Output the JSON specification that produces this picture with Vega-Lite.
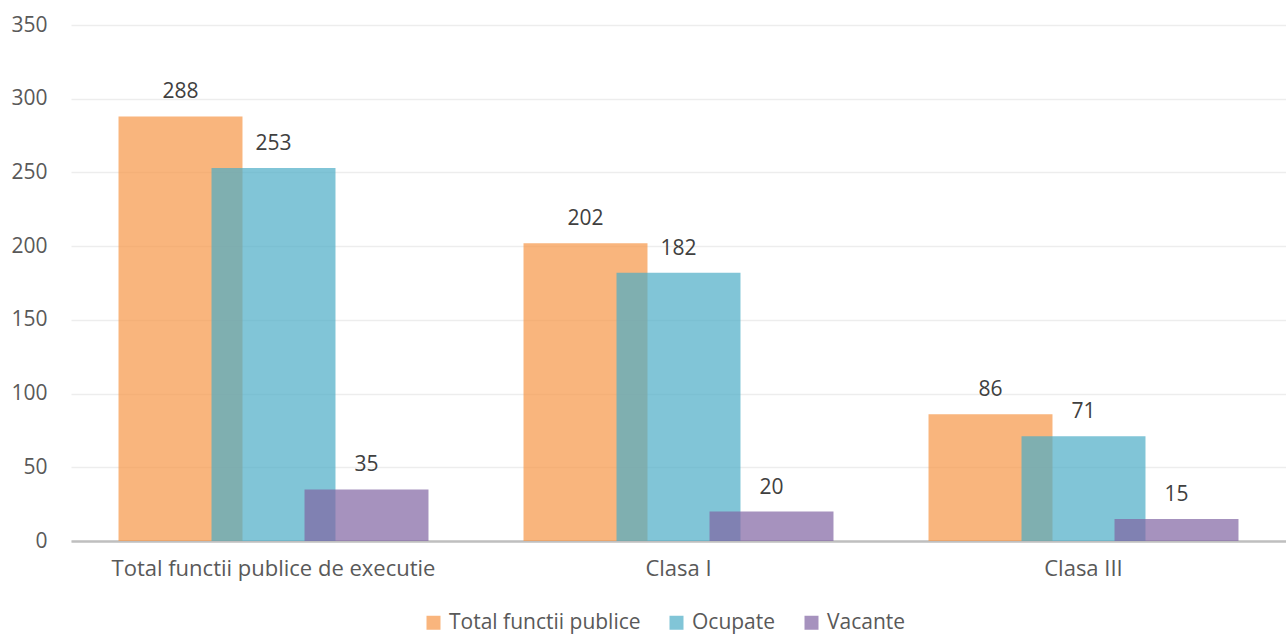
{
  "$schema": "https://vega.github.io/schema/vega-lite/v6.json",
  "width": 1215,
  "height": 516,
  "autosize": "none",
  "padding": {"left": 71, "top": 25, "right": 0, "bottom": 94},
  "background": "white",
  "config": {
    "view": {"stroke": null},
    "font": "Open Sans"
  },
  "data": {
    "values": [
      {"categorie": "Total functii publice de executie", "serie": "Total functii publice", "ord": 1, "valoare": 288},
      {"categorie": "Total functii publice de executie", "serie": "Ocupate", "ord": 2, "valoare": 253},
      {"categorie": "Total functii publice de executie", "serie": "Vacante", "ord": 3, "valoare": 35},
      {"categorie": "Clasa I", "serie": "Total functii publice", "ord": 1, "valoare": 202},
      {"categorie": "Clasa I", "serie": "Ocupate", "ord": 2, "valoare": 182},
      {"categorie": "Clasa I", "serie": "Vacante", "ord": 3, "valoare": 20},
      {"categorie": "Clasa III", "serie": "Total functii publice", "ord": 1, "valoare": 86},
      {"categorie": "Clasa III", "serie": "Ocupate", "ord": 2, "valoare": 71},
      {"categorie": "Clasa III", "serie": "Vacante", "ord": 3, "valoare": 15}
    ]
  },
  "encoding": {
    "x": {
      "field": "categorie",
      "type": "nominal",
      "sort": ["Total functii publice de executie", "Clasa I", "Clasa III"],
      "scale": {"paddingInner": 0.311, "paddingOuter": 0.1555},
      "axis": {
        "title": null,
        "labelAngle": 0,
        "labelLimit": 0,
        "labelFont": "Open Sans",
        "labelFontSize": 22,
        "labelColor": "#595959",
        "labelPadding": 17,
        "ticks": false,
        "domainColor": "#BFBFBF",
        "domainWidth": 2.5,
        "grid": false
      }
    },
    "y": {
      "field": "valoare",
      "type": "quantitative",
      "scale": {"domain": [0, 350]},
      "axis": {
        "title": null,
        "values": [0, 50, 100, 150, 200, 250, 300, 350],
        "labelFont": "Open Sans",
        "labelFontSize": 21,
        "labelColor": "#595959",
        "labelPadding": 24,
        "ticks": false,
        "domain": false,
        "gridColor": "#EDEDED",
        "gridWidth": 1.5
      }
    }
  },
  "resolve": {"scale": {"xOffset": "independent"}},
  "layer": [
    {
      "mark": {"type": "bar", "opacity": 0.7, "width": {"band": 1.333}},
      "encoding": {
        "xOffset": {
          "field": "serie",
          "type": "nominal",
          "sort": ["Total functii publice", "Ocupate", "Vacante"],
          "scale": {"type": "band", "paddingInner": 0, "paddingOuter": 0, "range": [31, 310]}
        },
        "color": {
          "field": "serie",
          "type": "nominal",
          "sort": ["Total functii publice", "Ocupate", "Vacante"],
          "scale": {"domain": ["Total functii publice", "Ocupate", "Vacante"], "range": ["#F79646", "#4BACC6", "#8064A2"]},
          "legend": {
            "title": null,
            "orient": "none",
            "direction": "horizontal",
            "legendX": 352,
            "legendY": 587,
            "symbolType": "square",
            "symbolSize": 196,
            "symbolOpacity": 0.7,
            "symbolStrokeWidth": 0,
            "labelFont": "Open Sans",
            "labelFontSize": 21,
            "labelLimit": 0,
            "labelColor": "#595959",
            "labelOffset": 5,
            "columnPadding": 25
          }
        },
        "order": {"field": "ord"}
      }
    },
    {
      "mark": {"type": "text", "baseline": "alphabetic", "dy": -18, "fontSize": 21, "font": "Open Sans", "color": "#404040"},
      "encoding": {
        "xOffset": {
          "field": "serie",
          "type": "nominal",
          "sort": ["Total functii publice", "Ocupate", "Vacante"],
          "scale": {"type": "band", "paddingInner": 0, "paddingOuter": 0}
        },
        "text": {"field": "valoare", "type": "quantitative"}
      }
    }
  ]
}
